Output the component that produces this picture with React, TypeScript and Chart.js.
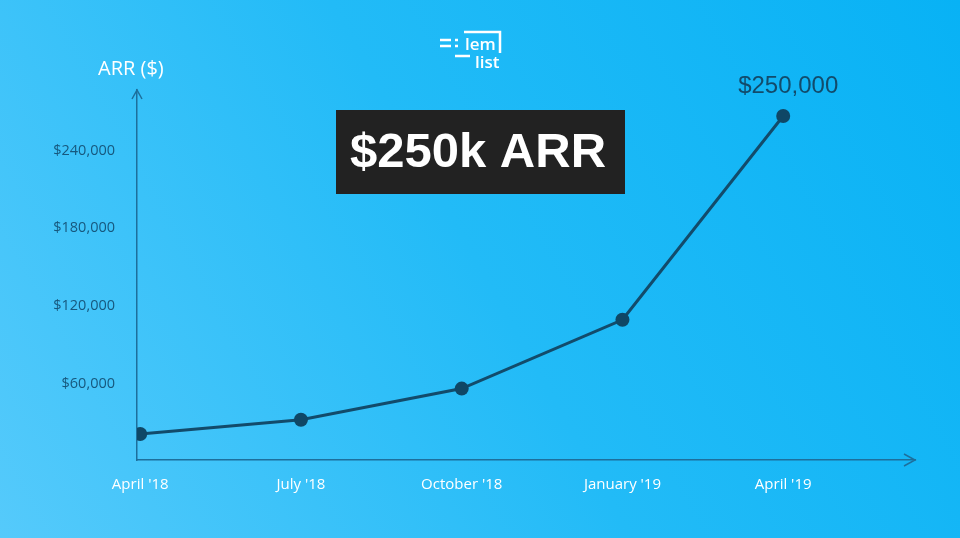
import React, { useEffect, useRef } from "react";
import { Chart, registerables } from "chart.js";

Chart.register(...registerables);

const categories = ["April '18", "July '18", "October '18", "January '19", "April '19"];
const arrValues = [20000, 31000, 55000, 108000, 265000];
const yTickValues = [60000, 120000, 180000, 240000];
const seriesName = "ARR ($)";
const highlightLabel = "$250,000";
const headline = "$250k ARR";

const fmt = (v: number) => "$" + v.toLocaleString("en-US");

export default function App() {
  const ref = useRef<HTMLCanvasElement | null>(null);

  useEffect(() => {
    document.body.style.margin = "0";
    const canvas = ref.current!;
    const bgPlugin = {
      id: "bg",
      beforeDraw(chart: any) {
        const { ctx, width, height } = chart;
        const g = ctx.createLinearGradient(0, height, width, 0);
        g.addColorStop(0, "#55cafb");
        g.addColorStop(0.5, "#22bbf7");
        g.addColorStop(1, "#08b2f5");
        ctx.save();
        ctx.fillStyle = g;
        ctx.fillRect(0, 0, width, height);
        ctx.restore();
      },
    };
    const overlayPlugin = {
      id: "overlay",
      afterDraw(chart: any) {
        const { ctx, chartArea } = chart;
        const x0 = chartArea.left;
        const y0 = chartArea.bottom;
        ctx.save();
        // arrows
        ctx.strokeStyle = "#1d6f9c";
        ctx.lineWidth = 1.5;
        ctx.beginPath();
        ctx.moveTo(x0 - 5, chartArea.top + 9);
        ctx.lineTo(x0, chartArea.top);
        ctx.lineTo(x0 + 5, chartArea.top + 9);
        ctx.moveTo(chartArea.right - 11, y0 - 6);
        ctx.lineTo(chartArea.right, y0);
        ctx.lineTo(chartArea.right - 11, y0 + 6);
        ctx.stroke();

        // series title
        ctx.fillStyle = "#ffffff";
        ctx.font = "20px 'Open Sans', sans-serif";
        ctx.textAlign = "left";
        ctx.textBaseline = "middle";
        ctx.fillText(seriesName, 98, 69);

        // headline box
        ctx.fillStyle = "#222222";
        ctx.fillRect(336, 110, 289, 84);
        ctx.fillStyle = "#ffffff";
        ctx.font = "bold 49px 'Liberation Sans', Arial, sans-serif";
        ctx.textAlign = "center";
        ctx.fillText(headline, 478, 153);

        // highlight label near last point
        const meta = chart.getDatasetMeta(0);
        const last = meta.data[meta.data.length - 1];
        ctx.fillStyle = "#124b6b";
        ctx.font = "24px 'Liberation Sans', Arial, sans-serif";
        ctx.fillText(highlightLabel, last.x + 5, last.y - 30);

        // logo
        ctx.strokeStyle = "#ffffff";
        ctx.fillStyle = "#ffffff";
        ctx.lineWidth = 2.5;
        ctx.beginPath();
        ctx.moveTo(464, 32);
        ctx.lineTo(500, 32);
        ctx.lineTo(500, 53);
        ctx.moveTo(440, 40);
        ctx.lineTo(451, 40);
        ctx.moveTo(440, 46);
        ctx.lineTo(451, 46);
        ctx.moveTo(455, 40);
        ctx.lineTo(458, 40);
        ctx.moveTo(455, 46);
        ctx.lineTo(458, 46);
        ctx.moveTo(455, 56);
        ctx.lineTo(470, 56);
        ctx.stroke();
        ctx.font = "600 17px 'Open Sans', sans-serif";
        ctx.textAlign = "left";
        ctx.textBaseline = "alphabetic";
        ctx.fillText("lem", 465, 50);
        ctx.fillText("list", 475, 68);
        ctx.restore();
      },
    };

    const chart = new Chart(canvas, {
      type: "line",
      data: {
        labels: categories,
        datasets: [
          {
            label: seriesName,
            data: arrValues.map((v, i) => ({ x: i, y: v })),
            borderColor: "#124b6b",
            backgroundColor: "#124b6b",
            borderWidth: 3,
            pointRadius: 7,
            pointBackgroundColor: "#0f4766",
            pointBorderWidth: 0,
            tension: 0,
          },
        ],
      },
      options: {
        responsive: false,
        animation: false,
        layout: { padding: { top: 90, right: 45, left: 0, bottom: 0 } },
        plugins: { legend: { display: false }, tooltip: { enabled: false } },
        scales: {
          x: {
            type: "linear",
            min: -0.02,
            max: 4.82,
            afterFit: (s: any) => {
              s.height = 78;
            },
            afterBuildTicks: (s: any) => {
              s.ticks = categories.map((_, i) => ({ value: i }));
            },
            grid: { display: false, drawTicks: false },
            border: { display: true, color: "#1d6f9c", width: 1.5 },
            ticks: {
              color: "#ffffff",
              padding: 16,
              font: { family: "'Open Sans', sans-serif", size: 15 },
              callback: (v: any) => categories[v] ?? "",
            },
          },
          y: {
            min: 0,
            max: 285000,
            afterFit: (s: any) => {
              s.width = 137;
            },
            afterBuildTicks: (s: any) => {
              s.ticks = yTickValues.map((v) => ({ value: v }));
            },
            grid: { display: false, drawTicks: false },
            border: { display: true, color: "#1d6f9c", width: 1.5 },
            ticks: {
              color: "#17587e",
              padding: 22,
              labelOffset: 2,
              font: { family: "'Open Sans', sans-serif", size: 14.5 },
              callback: (v: any) => fmt(Number(v)),
            },
          },
        },
      },
      plugins: [bgPlugin, overlayPlugin],
    } as any);
    return () => chart.destroy();
  }, []);

  return (
    <div style={{ width: 960, height: 538 }}>
      <canvas ref={ref} width={960} height={538} style={{ display: "block" }} />
    </div>
  );
}
